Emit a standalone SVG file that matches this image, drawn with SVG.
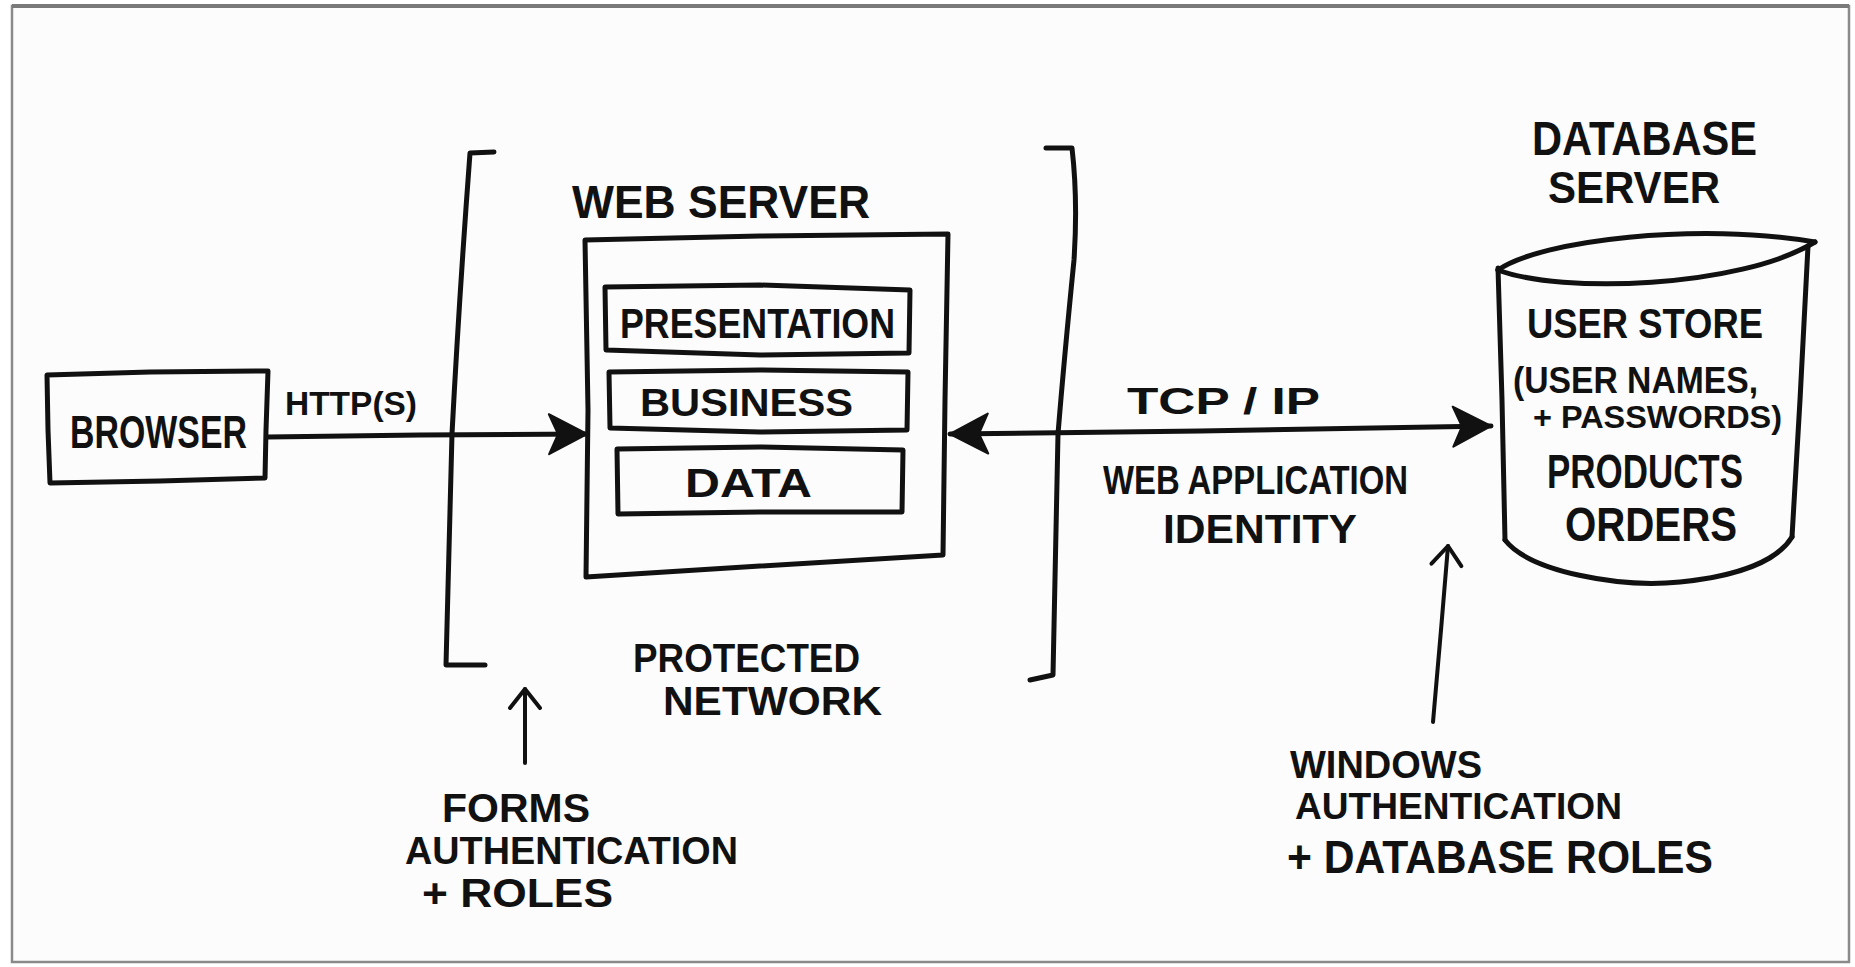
<svg xmlns="http://www.w3.org/2000/svg" width="1855" height="967" viewBox="0 0 1855 967">
  <style>
    .ink { fill: none; stroke: #111; stroke-width: 5; stroke-linecap: round; stroke-linejoin: round; }
    .thin { fill: none; stroke: #111; stroke-width: 4; stroke-linecap: round; stroke-linejoin: round; }
    .lbl { font-family: "Liberation Sans Narrow", "Liberation Sans", "DejaVu Sans", sans-serif; font-weight: bold; fill: #111; }
  </style>
  <defs>
    <!-- solid hand-drawn arrowhead -->
    <marker id="head" markerUnits="userSpaceOnUse" markerWidth="40" markerHeight="42" refX="38" refY="21" orient="auto-start-reverse" overflow="visible">
      <path d="M0,1 L38,21 L0,41 L9,21 Z" fill="#111" stroke="#111" stroke-width="2" stroke-linejoin="round"/>
    </marker>
    <!-- open chevron arrowhead -->
    <marker id="open" markerUnits="userSpaceOnUse" markerWidth="24" markerHeight="32" refX="20" refY="16" orient="auto" overflow="visible">
      <path d="M1,1 L20,16 L1,31" fill="none" stroke="#111" stroke-width="4" stroke-linecap="round" stroke-linejoin="round"/>
    </marker>
  </defs>

  <!-- paper and frame -->
  <rect x="0" y="0" width="1855" height="967" fill="#ffffff"/>
  <rect x="12" y="6" width="1837" height="956" fill="#fcfcfc" stroke="#8a8a8a" stroke-width="2.5"/>
  <line x1="12" y1="6" x2="1849" y2="6" stroke="#7a7a7a" stroke-width="4"/>

  <!-- browser -->
  <g id="browser">
    <path class="ink" d="M47,375 L150,372 L268,371 L266,430 L265,478 L160,481 L50,483 L48,430 Z"/>
    <text class="lbl" x="70" y="448" font-size="46" textLength="177" lengthAdjust="spacingAndGlyphs">BROWSER</text>
  </g>

  <!-- protected network bracket pair -->
  <g id="protected-network">
    <path class="ink" d="M494,152 L470,153 Q459,300 452,434 L446,665 L485,665"/>
    <path class="ink" d="M1046,148 L1072,148 Q1078,200 1074,260 Q1064,360 1058,434 L1053,675 L1030,680"/>
    <text class="lbl" x="633" y="672" font-size="40" textLength="227" lengthAdjust="spacingAndGlyphs">PROTECTED</text>
    <text class="lbl" x="663" y="715" font-size="40" textLength="219" lengthAdjust="spacingAndGlyphs">NETWORK</text>
  </g>

  <!-- web server with its three layers -->
  <g id="web-server">
    <text class="lbl" x="572" y="218" font-size="46" textLength="298" lengthAdjust="spacingAndGlyphs">WEB SERVER</text>
    <path class="ink" d="M585,240 L760,236 L948,234 L945,400 L943,555 L760,566 L586,577 L588,410 Z"/>
    <g id="layer-presentation">
      <path class="ink" d="M605,287 L760,285 L910,290 L909,353 L760,355 L606,350 Z"/>
      <text class="lbl" x="620" y="338" font-size="42" textLength="275" lengthAdjust="spacingAndGlyphs">PRESENTATION</text>
    </g>
    <g id="layer-business">
      <path class="ink" d="M609,372 L760,370 L908,372 L907,430 L760,432 L610,428 Z"/>
      <text class="lbl" x="640" y="416" font-size="39" textLength="213" lengthAdjust="spacingAndGlyphs">BUSINESS</text>
    </g>
    <g id="layer-data">
      <path class="ink" d="M617,449 L760,447 L903,450 L902,512 L760,512 L618,514 Z"/>
      <text class="lbl" x="685" y="497" font-size="41" textLength="127" lengthAdjust="spacingAndGlyphs">DATA</text>
    </g>
  </g>

  <!-- database server cylinder -->
  <g id="database-server">
    <text class="lbl" x="1532" y="155" font-size="48" textLength="225" lengthAdjust="spacingAndGlyphs">DATABASE</text>
    <text class="lbl" x="1548" y="203" font-size="44" textLength="172" lengthAdjust="spacingAndGlyphs">SERVER</text>
    <path class="ink" d="M1498,270 C1540,240 1700,222 1815,242"/>
    <path class="ink" d="M1498,270 C1560,294 1740,288 1815,242"/>
    <path class="ink" d="M1498,268 L1502,400 L1505,540"/>
    <path class="ink" d="M1808,246 L1800,400 L1792,537"/>
    <path class="ink" d="M1505,540 C1530,572 1620,588 1680,582 C1740,576 1778,560 1792,537"/>
    <text class="lbl" x="1527" y="338" font-size="42" textLength="236" lengthAdjust="spacingAndGlyphs">USER STORE</text>
    <text class="lbl" x="1513" y="393" font-size="37" textLength="245" lengthAdjust="spacingAndGlyphs">(USER NAMES,</text>
    <text class="lbl" x="1533" y="428" font-size="32" textLength="249" lengthAdjust="spacingAndGlyphs">+ PASSWORDS)</text>
    <text class="lbl" x="1547" y="488" font-size="48" textLength="196" lengthAdjust="spacingAndGlyphs">PRODUCTS</text>
    <text class="lbl" x="1565" y="541" font-size="48" textLength="172" lengthAdjust="spacingAndGlyphs">ORDERS</text>
  </g>

  <!-- annotation labels -->
  <g id="forms-auth">
    <text class="lbl" x="442" y="822" font-size="40" textLength="148" lengthAdjust="spacingAndGlyphs">FORMS</text>
    <text class="lbl" x="405" y="864" font-size="38" textLength="333" lengthAdjust="spacingAndGlyphs">AUTHENTICATION</text>
    <text class="lbl" x="422" y="907" font-size="40" textLength="191" lengthAdjust="spacingAndGlyphs">+ ROLES</text>
  </g>
  <g id="windows-auth">
    <text class="lbl" x="1290" y="778" font-size="38" textLength="192" lengthAdjust="spacingAndGlyphs">WINDOWS</text>
    <text class="lbl" x="1295" y="819" font-size="36" textLength="327" lengthAdjust="spacingAndGlyphs">AUTHENTICATION</text>
    <text class="lbl" x="1287" y="873" font-size="46" textLength="426" lengthAdjust="spacingAndGlyphs">+ DATABASE ROLES</text>
  </g>

  <!-- connectors -->
  <g id="connectors">
    <path class="ink" d="M268,437 L420,435 L587,434" marker-end="url(#head)"/>
    <text class="lbl" x="285" y="415" font-size="34" textLength="132" lengthAdjust="spacingAndGlyphs">HTTP(S)</text>

    <path class="ink" d="M950,434 L1200,431 L1491,426" marker-start="url(#head)" marker-end="url(#head)"/>
    <text class="lbl" x="1127" y="414" font-size="36" textLength="193" lengthAdjust="spacingAndGlyphs">TCP / IP</text>
    <text class="lbl" x="1103" y="494" font-size="40" textLength="305" lengthAdjust="spacingAndGlyphs">WEB APPLICATION</text>
    <text class="lbl" x="1163" y="543" font-size="40" textLength="194" lengthAdjust="spacingAndGlyphs">IDENTITY</text>

    <path class="thin" d="M525,763 L525,689" marker-end="url(#open)"/>
    <path class="thin" d="M1433,722 L1441,630 L1448,546" marker-end="url(#open)"/>
  </g>
</svg>
